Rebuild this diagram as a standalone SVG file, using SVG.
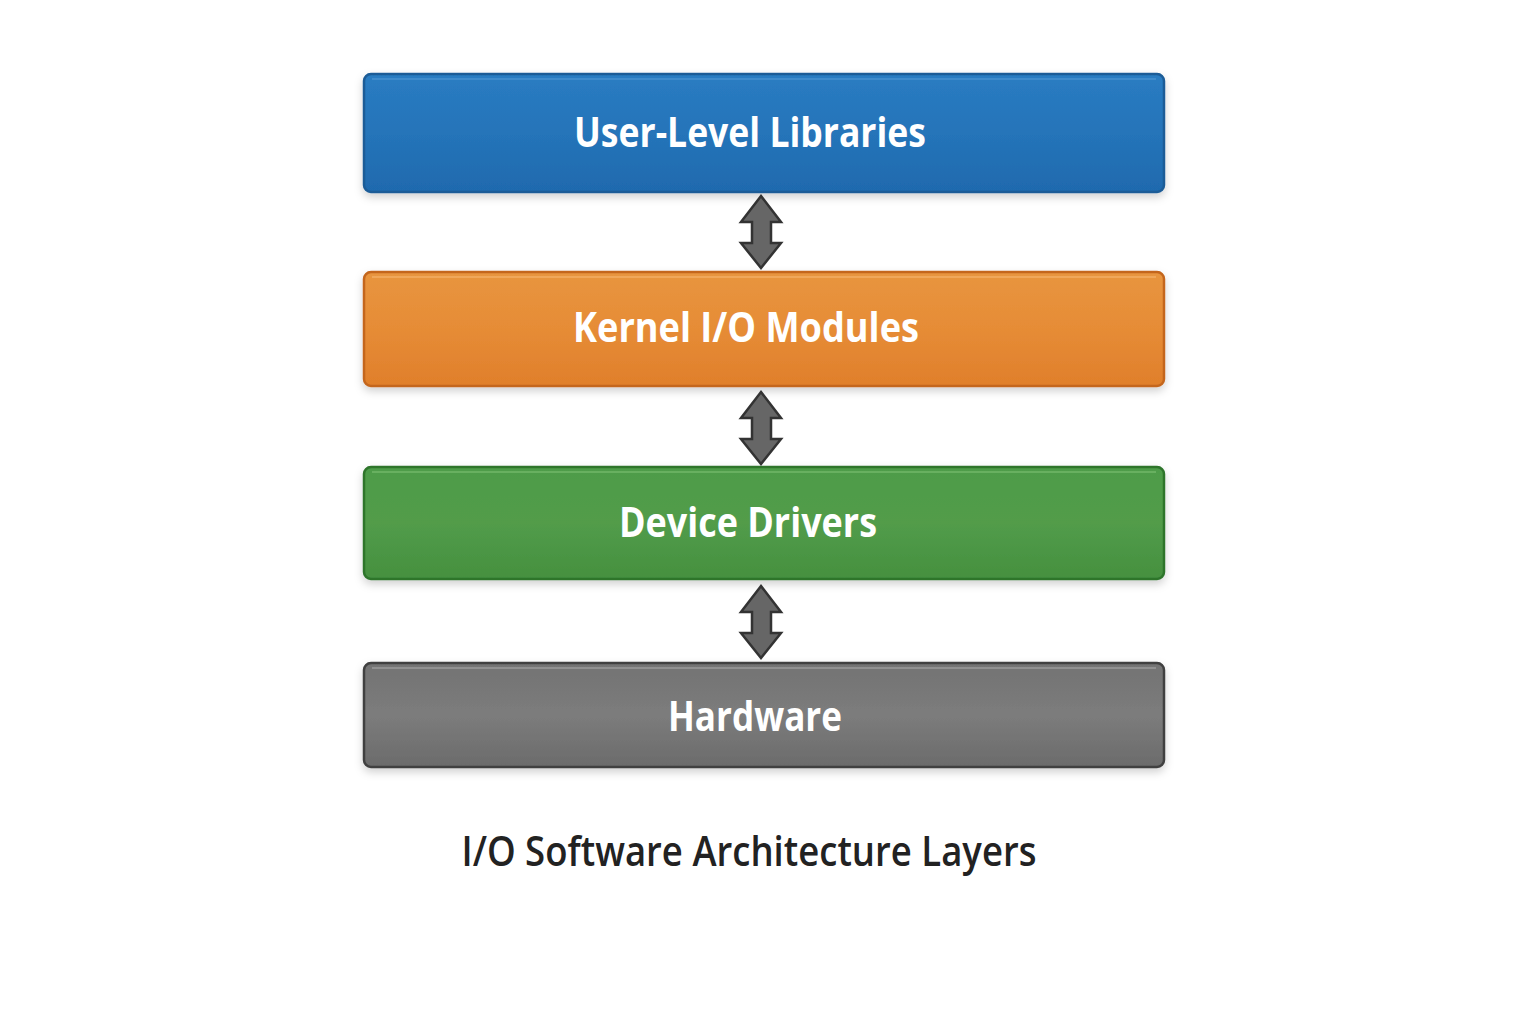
<svg xmlns="http://www.w3.org/2000/svg" width="1536" height="1024" viewBox="0 0 1536 1024">
<defs>
<style>
.lbl{font-family:"Open Sans","Noto Sans",sans-serif;font-weight:700;font-size:41px;fill:#ffffff;text-anchor:middle}
.title{font-family:"Open Sans","Noto Sans",sans-serif;font-weight:600;font-size:42px;fill:#222222;text-anchor:middle}
.arrow{fill:#666666;stroke:#333333;stroke-width:2.5;stroke-linejoin:miter}
.box{stroke-width:2.5}
</style>
<linearGradient id="gBlue" x1="0" y1="0" x2="0" y2="1">
<stop offset="0" stop-color="#2a7cc2"/><stop offset="0.5" stop-color="#2574b9"/><stop offset="1" stop-color="#1f6aae"/>
</linearGradient>
<linearGradient id="gOrange" x1="0" y1="0" x2="0" y2="1">
<stop offset="0" stop-color="#e8953f"/><stop offset="0.5" stop-color="#e68c36"/><stop offset="1" stop-color="#e07f2b"/>
</linearGradient>
<linearGradient id="gGreen" x1="0" y1="0" x2="0" y2="1">
<stop offset="0" stop-color="#4e9c48"/><stop offset="0.5" stop-color="#529c4a"/><stop offset="1" stop-color="#45903f"/>
</linearGradient>
<linearGradient id="gGray" x1="0" y1="0" x2="0" y2="1">
<stop offset="0" stop-color="#737373"/><stop offset="0.5" stop-color="#7c7c7c"/><stop offset="1" stop-color="#6b6b6b"/>
</linearGradient>
<filter id="shadow" x="-5%" y="-20%" width="110%" height="150%">
<feDropShadow dx="0" dy="4" stdDeviation="4" flood-color="#000000" flood-opacity="0.18"/>
</filter>
</defs>
<rect width="1536" height="1024" fill="#ffffff"/>
<g id="node-user-libraries">
<rect class="box" x="364" y="74" width="800" height="118" rx="7" fill="url(#gBlue)" stroke="#1b5c97" filter="url(#shadow)"/>
<line x1="372" y1="79" x2="1156" y2="79" stroke="#4a93d2" stroke-width="2" opacity="0.7"/>
<text class="lbl" x="750" y="147" textLength="352" lengthAdjust="spacingAndGlyphs">User-Level Libraries</text>
</g>
<g id="node-kernel-io">
<rect class="box" x="364" y="272" width="800" height="114" rx="7" fill="url(#gOrange)" stroke="#c4661e" filter="url(#shadow)"/>
<line x1="372" y1="277" x2="1156" y2="277" stroke="#f2ac62" stroke-width="2" opacity="0.8"/>
<text class="lbl" x="746" y="342" textLength="346" lengthAdjust="spacingAndGlyphs">Kernel I/O Modules</text>
</g>
<g id="node-device-drivers">
<rect class="box" x="364" y="467" width="800" height="112" rx="7" fill="url(#gGreen)" stroke="#2d742c" filter="url(#shadow)"/>
<line x1="372" y1="472" x2="1156" y2="472" stroke="#6fb566" stroke-width="2" opacity="0.8"/>
<text class="lbl" x="748" y="537" textLength="258" lengthAdjust="spacingAndGlyphs">Device Drivers</text>
</g>
<g id="node-hardware">
<rect class="box" x="364" y="663" width="800" height="104" rx="7" fill="url(#gGray)" stroke="#404040" filter="url(#shadow)"/>
<line x1="372" y1="668" x2="1156" y2="668" stroke="#999999" stroke-width="2" opacity="0.8"/>
<text class="lbl" x="755" y="731" textLength="174" lengthAdjust="spacingAndGlyphs">Hardware</text>
</g>
<g id="connectors">
<path class="arrow" d="M761,196 L781,222 L771,222 L771,243 L781,243 L761,268 L741,243 L752,243 L752,222 L741,222 Z"/>
<path class="arrow" d="M761,392 L781,418 L771,418 L771,439 L781,439 L761,464 L741,439 L752,439 L752,418 L741,418 Z"/>
<path class="arrow" d="M761,586 L781,612 L771,612 L771,633 L781,633 L761,658 L741,633 L752,633 L752,612 L741,612 Z"/>
</g>
<text class="title" x="749" y="866" textLength="575" lengthAdjust="spacingAndGlyphs">I/O Software Architecture Layers</text>
</svg>
